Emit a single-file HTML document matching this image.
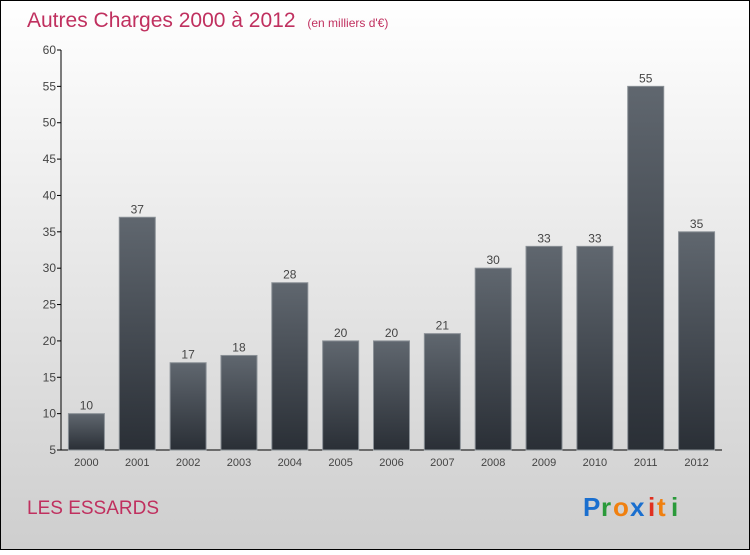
<!DOCTYPE html>
<html><head><meta charset="utf-8"><style>
body{margin:0;width:750px;height:550px;overflow:hidden;font-family:"Liberation Sans",sans-serif}
</style></head><body>
<svg id="chart" width="750" height="550" xmlns="http://www.w3.org/2000/svg">
<defs>
<linearGradient id="bg" x1="0" y1="0" x2="0" y2="1"><stop offset="0" stop-color="#ffffff"/><stop offset="1" stop-color="#cecece"/></linearGradient>
<linearGradient id="bar" x1="0" y1="0" x2="0" y2="1"><stop offset="0" stop-color="#60676f"/><stop offset="1" stop-color="#2a2f36"/></linearGradient>
</defs>
<rect x="0.5" y="0.5" width="749" height="549" fill="url(#bg)" stroke="#000"/>
<text x="27" y="27" font-size="21" fill="#c0305f">Autres Charges 2000 à 2012 <tspan font-size="12" dx="6">(en milliers d'€)</tspan></text>
<text x="27" y="514" font-size="19" fill="#c0305f">LES ESSARDS</text>
<g font-size="26" font-weight="bold">
<text x="583" y="516" fill="#1a6fcf">P</text><text x="601" y="516" fill="#2a9a3a">r</text><text x="613" y="516" fill="#f08010">o</text><text x="630" y="516" fill="#1a6fcf">x</text><text x="648" y="516" fill="#e03020">i</text><text x="657" y="516" fill="#f08010">t</text><text x="671" y="516" fill="#2a9a3a">i</text>
</g>
<g id="axes"></g><g id="bars"></g>
</svg>
<script>
const categories=["2000","2001","2002","2003","2004","2005","2006","2007","2008","2009","2010","2011","2012"];
const values=[10,37,17,18,28,20,20,21,30,33,33,55,35];
const ticks=[5,10,15,20,25,30,35,40,45,50,55,60];
const NS="http://www.w3.org/2000/svg";
const x0=61,x1=722,yMin=5,yMax=60,yTop=50,yBot=450;
const band=(x1-x0)/categories.length;
function y(v){return yBot-(v-yMin)/(yMax-yMin)*(yBot-yTop);}
function xc(i){return x0+band*(i+0.5);}
function mk(t,a,p){const e=document.createElementNS(NS,t);for(const k in a)e.setAttribute(k,a[k]);p.appendChild(e);return e;}
const ax=document.getElementById('axes'),bg=document.getElementById('bars');
const yl=mk('line',{x1:x0,y1:yTop,x2:x0,y2:yBot,stroke:'#000'},ax);


const xl=mk('line',{x1:x0,y1:yBot,x2:x1,y2:yBot,stroke:'#000'},ax);


ticks.forEach(t=>{
 mk('line',{x1:x0-4,y1:y(t),x2:x0,y2:y(t),stroke:'#000'},ax);
 const tx=mk('text',{x:x0-5,y:y(t)+4,'text-anchor':'end','font-size':12,fill:'#444'},ax);
 tx.textContent=t;
 
 
});
categories.forEach((c,i)=>{
 const r=mk('rect',{x:xc(i)-18,y:y(values[i]),width:36,height:yBot-y(values[i]),fill:'url(#bar)',stroke:'#8a9096','stroke-width':1},bg);
 
 
 const v=mk('text',{x:xc(i),y:y(values[i])-4,'text-anchor':'middle','font-size':12,fill:'#444'},bg);
 v.textContent=values[i];
 
 
 const l=mk('text',{x:xc(i),y:466,'text-anchor':'middle','font-size':11,fill:'#444'},ax);
 l.textContent=c;
 
 
});
</script>
</body></html>
